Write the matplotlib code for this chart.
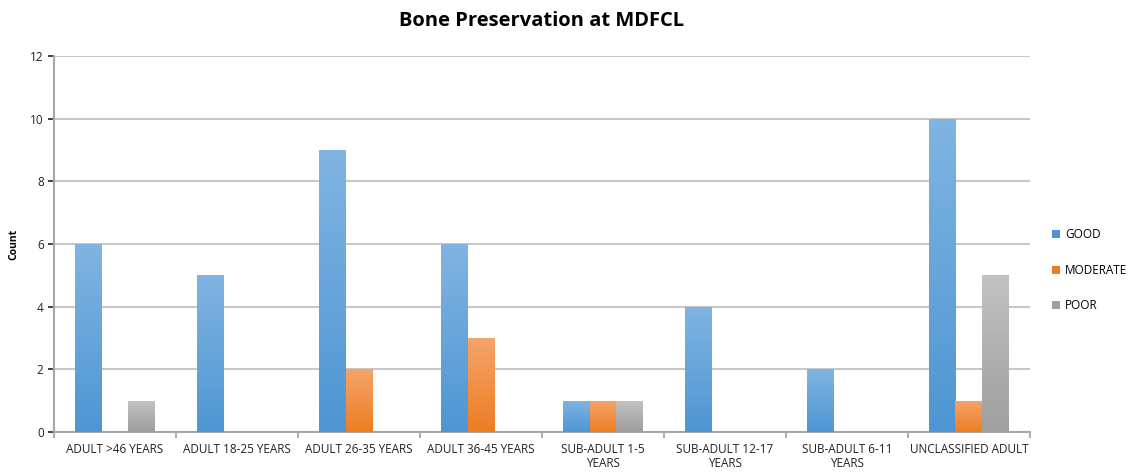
import numpy as np
import matplotlib
matplotlib.use("Agg")
import matplotlib.pyplot as plt
from matplotlib.patches import Patch
from matplotlib.colors import LinearSegmentedColormap

plt.rcParams['font.family'] = ['Open Sans', 'DejaVu Sans']

# counts per age group
categories = ["ADULT >46 YEARS", "ADULT 18-25 YEARS", "ADULT 26-35 YEARS",
              "ADULT 36-45 YEARS", "SUB-ADULT 1-5\nYEARS", "SUB-ADULT 12-17\nYEARS",
              "SUB-ADULT 6-11\nYEARS", "UNCLASSIFIED ADULT"]
good = [6, 5, 9, 6, 1, 4, 2, 10]
moderate = [0, 0, 2, 3, 1, 0, 0, 1]
poor = [1, 0, 0, 0, 1, 0, 0, 5]
series = [("GOOD", good, "#80b4e2", "#4e96d3"),
          ("MODERATE", moderate, "#f5a46a", "#ec7e22"),
          ("POOR", poor, "#c2c2c2", "#9f9f9f")]

fig = plt.figure(figsize=(11.33, 4.72), dpi=100)
ax = fig.add_axes([0.0477, 0.0847, 0.8613, 0.7963])

x = np.arange(len(categories))
w = 0.22
grad = np.linspace(1, 0, 100).reshape(-1, 1)
handles = []
for i, (name, vals, top, bot) in enumerate(series):
    cmap = LinearSegmentedColormap.from_list(name, [bot, top])
    bars = ax.bar(x + (i - 1) * w, vals, w, color=top, edgecolor="none", zorder=2)
    for b in bars:
        h = b.get_height()
        if h <= 0:
            continue
        x0 = b.get_x()
        im = ax.imshow(grad, cmap=cmap, aspect="auto", zorder=3,
                       extent=[x0, x0 + b.get_width(), 0, h], origin="upper")
        im.set_clip_path(b)
    handles.append(Patch(facecolor=bot, label=name))

ax.set_xlim(-0.5, len(categories) - 0.5)
ax.set_ylim(0, 12)
ax.set_yticks(range(0, 13, 2))
ax.set_xticks(x)
ax.set_xticklabels(categories, fontsize=8.5, color="#222222", linespacing=1.1)
ax.tick_params(axis="x", length=0, pad=8)
ax.set_xticks(np.arange(-0.5, len(categories), 1), minor=True)
ax.tick_params(axis="x", which="minor", length=4, color="#a0a0a0", width=1.2)
ax.tick_params(axis="y", labelsize=8.5, colors="#222222", length=4, width=1.2)
for t in ax.get_yticklines():
    t.set_color("#a0a0a0")
ax.grid(axis="y", color="#c8c8c8", linewidth=1.5, zorder=0)
ax.set_axisbelow(True)
for s in ["top", "right"]:
    ax.spines[s].set_visible(False)
for s in ["left", "bottom"]:
    ax.spines[s].set_color("#a8a8a8")
    ax.spines[s].set_linewidth(1.5)

ax.set_ylabel("Count", fontsize=7.5, fontweight="bold", labelpad=8)
ax.set_title("Bone Preservation at MDFCL", fontsize=14.5, fontweight="bold", pad=22)

ax.legend(handles=handles, loc="center left", bbox_to_anchor=(1.012, 0.43),
          frameon=False, fontsize=8.5, handlelength=0.7, handleheight=0.7,
          handletextpad=0.4, labelspacing=1.9)

fig.savefig("out.png", dpi=100)
